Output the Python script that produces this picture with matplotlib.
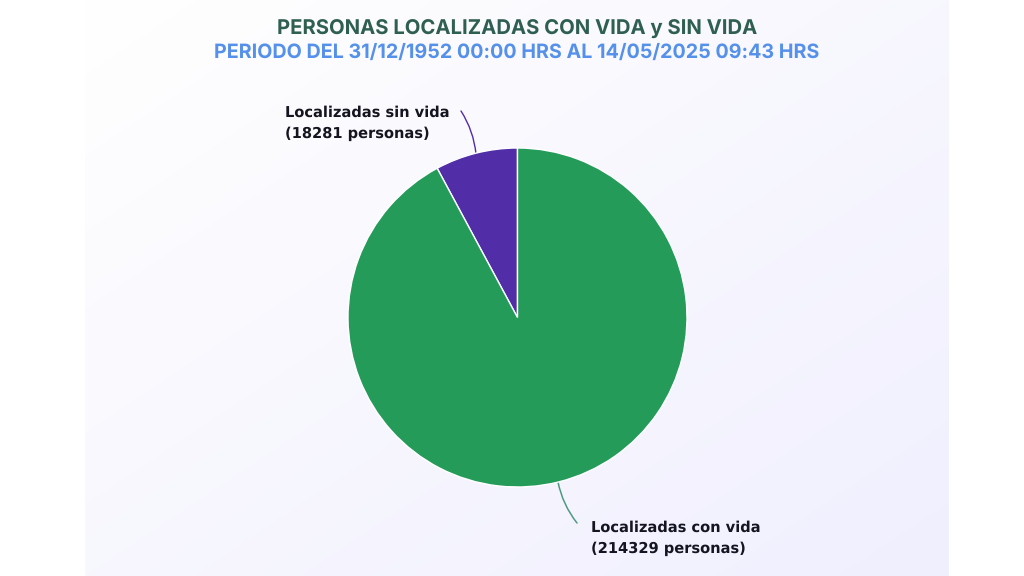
import numpy as np
import matplotlib
matplotlib.use("Agg")
import matplotlib.pyplot as plt

plt.rcParams["text.hinting"] = "no_hinting"

# datos
categorias = ["Localizadas sin vida", "Localizadas con vida"]
personas = [18281, 214329]
colores = ["#512da8", "#259b5a"]

titulo = "PERSONAS LOCALIZADAS CON VIDA y SIN VIDA"
subtitulo = "PERIODO DEL 31/12/1952 00:00 HRS AL 14/05/2025 09:43 HRS"

W, H = 1024, 576
fig = plt.figure(figsize=(W / 100, H / 100), dpi=100, facecolor="white")

# fondo con degradado, de blanco a lila claro
bg = fig.add_axes([85 / W, 0, (949 - 85) / W, 1])
gx, gy = np.meshgrid(np.linspace(0, 1, 200), np.linspace(0, 1, 200))
t = ((gx + gy) / 2)[..., None]
c0 = np.array([255, 255, 255]) / 255
c1 = np.array([240, 239, 254]) / 255
bg.imshow(c0 + (c1 - c0) * t, aspect="auto", origin="upper")
bg.axis("off")

# capa en pixeles para textos y lineas guia
capa = fig.add_axes([0, 0, 1, 1])
capa.set_xlim(0, W)
capa.set_ylim(H, 0)
capa.axis("off")
capa.patch.set_alpha(0)

# pastel
R = 169.5
cx, cy = 517.5, 317.5
ax = fig.add_axes([(cx - R) / W, 1 - (cy + R) / H, 2 * R / W, 2 * R / H])
ax.pie(personas, colors=colores, startangle=90, radius=1,
       wedgeprops={"edgecolor": "white", "linewidth": 1.0})
ax.set_xlim(-1, 1)
ax.set_ylim(-1, 1)

capa.text(517.5, 29, titulo, ha="center", va="center", fontsize=14.6,
          fontweight="bold", family="Inter", color="#2f5f50")
capa.text(517, 53, subtitulo, ha="center", va="center", fontsize=14.2,
          fontweight="bold", family="Inter", color="#5590ea")

etiquetas = [f"{c}\n({p} personas)" for c, p in zip(categorias, personas)]
capa.text(285, 123.5, etiquetas[0], ha="left", va="center", fontsize=10.55,
          fontweight="bold", family="DejaVu Sans", color="#151520", linespacing=1.6)
capa.text(591, 538.5, etiquetas[1], ha="left", va="center", fontsize=10.55,
          fontweight="bold", family="DejaVu Sans", color="#151520", linespacing=1.6)

# lineas guia
capa.annotate("", xy=(476, 154), xytext=(461, 111),
              arrowprops=dict(arrowstyle="-", color=colores[0], lw=1,
                              connectionstyle="arc3,rad=-0.12", shrinkA=0, shrinkB=0))
capa.annotate("", xy=(558, 482), xytext=(577, 523),
              arrowprops=dict(arrowstyle="-", color="#4f9a80", lw=1.1,
                              connectionstyle="arc3,rad=-0.12", shrinkA=0, shrinkB=0))

fig.savefig("out.png", dpi=100)
